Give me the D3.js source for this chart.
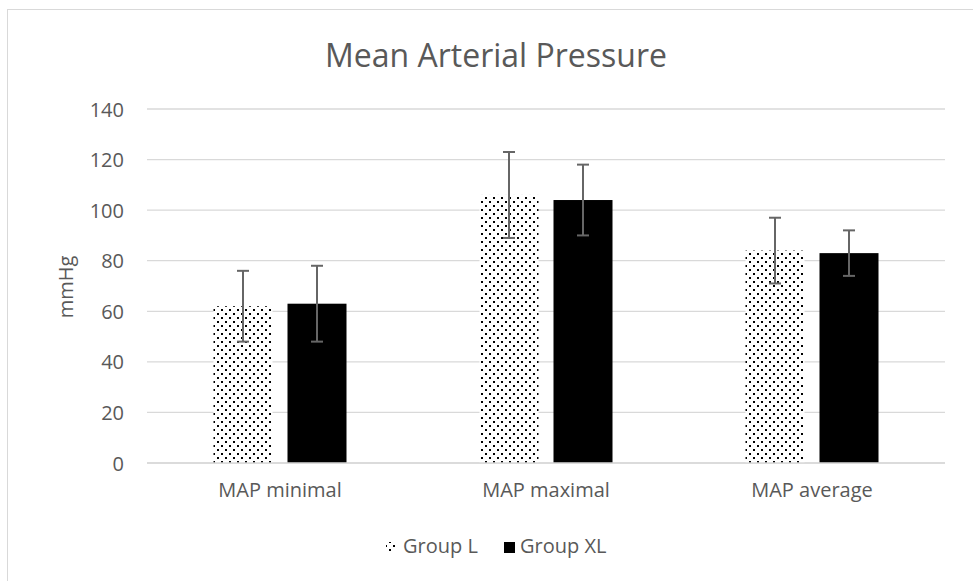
<!DOCTYPE html>
<html><head><meta charset="utf-8">
<script src="https://cdn.jsdelivr.net/npm/d3@7"></script>
<style>body{margin:0;background:#fff}svg{display:block}text{font-family:"Open Sans",sans-serif;fill:#595959}</style>
</head><body><svg id="c" width="973" height="581"></svg>
<script>
const categories = ["MAP minimal", "MAP maximal", "MAP average"];
const seriesNames = ["Group L", "Group XL"];
const groupL = [62, 106, 84];
const groupXL = [63, 104, 83];
const errL = [14, 17, 13];
const errXL = [15, 14, 9];
const yTicks = [0, 20, 40, 60, 80, 100, 120, 140];

const svg = d3.select("#c");
const defs = svg.append("defs");
const pat = defs.append("pattern").attr("id","dots").attr("patternUnits","userSpaceOnUse")
  .attr("width",8).attr("height",8);
pat.append("rect").attr("width",8).attr("height",8).attr("fill","#fff");
pat.append("rect").attr("x",1).attr("y",1).attr("width",2).attr("height",2).attr("fill","#000");
pat.append("rect").attr("x",5).attr("y",5).attr("width",2).attr("height",2).attr("fill","#000");

svg.append("rect").attr("x",7.5).attr("y",9.5).attr("width",970).attr("height",580)
  .attr("fill","#fff").attr("stroke","#d9d9d9");

const x0 = d3.scaleBand().domain(categories).range([147, 945]);
const y = d3.scaleLinear().domain([0, 140]).range([463, 109]);

// grid
svg.append("g").selectAll("line").data(yTicks).join("line")
  .attr("x1",147).attr("x2",945).attr("y1",d=>y(d)).attr("y2",d=>y(d))
  .attr("stroke","#d9d9d9").attr("stroke-width",1.3);

// y axis labels
const yAxis = d3.axisLeft(y).tickValues(yTicks).tickSize(0).tickPadding(0);
const ga = svg.append("g").attr("transform","translate(124,0)").call(yAxis);
ga.select(".domain").remove();
ga.selectAll("text").style("font-size","20px").attr("fill","#595959").attr("dy","0.35em");

// x labels
const xa = d3.axisBottom(x0).tickSize(0).tickPadding(0);
const gx = svg.append("g").attr("transform","translate(0,497)").call(xa);
gx.select(".domain").remove();
gx.selectAll("text").style("font-size","20px").attr("fill","#595959").attr("dy","0");

const series = [
  {name: seriesNames[0], vals: groupL, errs: errL, fill: "url(#dots)"},
  {name: seriesNames[1], vals: groupXL, errs: errXL, fill: "#000"}
];
const barW = 59, gap = 15;
series.forEach((s, si) => {
  const off = si === 0 ? -gap/2 - barW : gap/2;
  const g = svg.append("g");
  g.selectAll("rect").data(categories).join("rect")
    .attr("x", c => x0(c) + x0.bandwidth()/2 + off)
    .attr("y", (c,i) => y(s.vals[i]))
    .attr("width", barW)
    .attr("height", (c,i) => y(0) - y(s.vals[i]))
    .attr("fill", s.fill);
  const cx = c => x0(c) + x0.bandwidth()/2 + off + barW/2;
  const eg = svg.append("g").attr("stroke","#666").attr("stroke-width",2);
  categories.forEach((c,i) => {
    const hi = y(s.vals[i] + s.errs[i]), lo = y(s.vals[i] - s.errs[i]);
    eg.append("line").attr("x1",cx(c)).attr("x2",cx(c)).attr("y1",hi).attr("y2",lo);
    eg.append("line").attr("x1",cx(c)-6).attr("x2",cx(c)+6).attr("y1",hi).attr("y2",hi);
    eg.append("line").attr("x1",cx(c)-6).attr("x2",cx(c)+6).attr("y1",lo).attr("y2",lo);
  });
});

// bottom axis line
svg.append("line").attr("x1",147).attr("x2",945).attr("y1",y(0)).attr("y2",y(0))
  .attr("stroke","#d9d9d9").attr("stroke-width",1.3);

// title
svg.append("text").attr("x",496).attr("y",67).attr("text-anchor","middle")
  .style("font-size","32px").text("Mean Arterial Pressure");

// y title
svg.append("text").attr("transform","translate(73,287) rotate(-90)").attr("text-anchor","middle")
  .style("font-size","20px").text("mmHg");

// legend
const lg = svg.append("g");
lg.append("rect").attr("x",386).attr("y",542).attr("width",11).attr("height",11).attr("fill","url(#dots)");
lg.append("text").attr("x",403).attr("y",553).style("font-size","20px").text(seriesNames[0]);
lg.append("rect").attr("x",504).attr("y",542).attr("width",11).attr("height",11).attr("fill","#000");
lg.append("text").attr("x",520).attr("y",553).style("font-size","20px").text(seriesNames[1]);
</script></body></html>
